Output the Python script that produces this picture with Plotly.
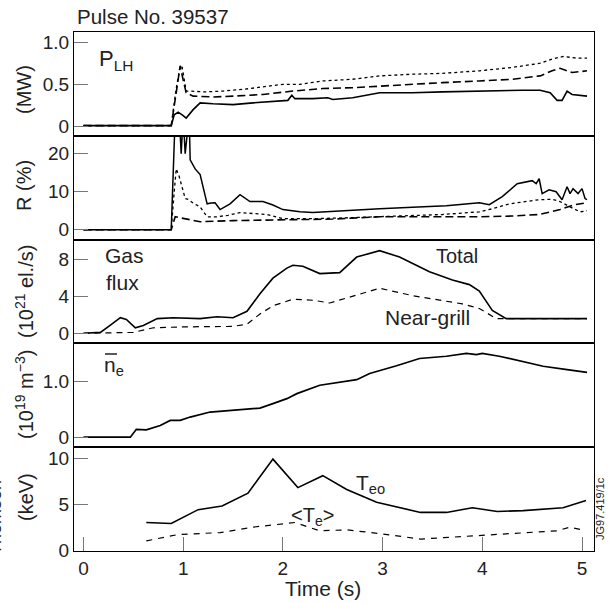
import plotly.graph_objects as go
from plotly.subplots import make_subplots

# ---------------- data ----------------
# Panel 1: P_LH (MW)
plh_solid_t = [0.0, 0.88, 0.91, 0.95, 1.0, 1.03, 1.1, 1.17, 1.3, 1.5, 1.7, 1.9, 2.05, 2.09, 2.12, 2.3, 2.45, 2.5, 2.7, 2.97, 3.3, 3.6, 3.9, 4.14, 4.4, 4.58, 4.68, 4.75, 4.8, 4.85, 4.9, 5.05]
plh_solid_v = [0.01, 0.01, 0.14, 0.17, 0.13, 0.10, 0.20, 0.28, 0.27, 0.26, 0.28, 0.30, 0.31, 0.37, 0.33, 0.33, 0.34, 0.32, 0.34, 0.40, 0.40, 0.41, 0.42, 0.43, 0.43, 0.43, 0.40, 0.31, 0.31, 0.42, 0.38, 0.36]
plh_dash_t = [0.0, 0.88, 0.93, 0.97, 1.0, 1.03, 1.1, 1.3, 1.5, 1.8, 2.1, 2.4, 2.7, 2.97, 3.3, 3.6, 3.97, 4.3, 4.58, 4.7, 4.78, 4.9, 5.05]
plh_dash_v = [0.01, 0.01, 0.40, 0.72, 0.55, 0.40, 0.36, 0.35, 0.36, 0.38, 0.42, 0.45, 0.46, 0.48, 0.50, 0.52, 0.54, 0.56, 0.60, 0.66, 0.69, 0.64, 0.66]
plh_dot_t = [0.0, 0.88, 0.93, 0.97, 0.99, 1.03, 1.08, 1.2, 1.4, 1.6, 1.8, 2.0, 2.17, 2.4, 2.7, 2.97, 3.3, 3.6, 3.97, 4.3, 4.58, 4.7, 4.81, 4.95, 5.05]
plh_dot_v = [0.01, 0.01, 0.45, 0.72, 0.70, 0.42, 0.42, 0.41, 0.42, 0.44, 0.47, 0.50, 0.50, 0.54, 0.56, 0.60, 0.62, 0.63, 0.66, 0.70, 0.75, 0.80, 0.83, 0.81, 0.81]

# Panel 2: R (%)
r_solid_t = [0.0, 0.88, 0.92, 0.96, 0.98, 1.0, 1.02, 1.04, 1.06, 1.07, 1.12, 1.17, 1.21, 1.24, 1.28, 1.32, 1.37, 1.42, 1.47, 1.57, 1.62, 1.67, 1.8, 1.9, 2.0, 2.17, 2.3, 2.6, 2.97, 3.3, 3.64, 3.97, 4.07, 4.2, 4.35, 4.5, 4.54, 4.57, 4.6, 4.67, 4.74, 4.8, 4.85, 4.88, 4.91, 4.96, 5.0, 5.03, 5.05]
r_solid_v = [0, 0, 30, 30, 20, 30, 20, 30, 30, 18.4, 16, 14.5, 10, 6.8, 7.0, 7.1, 5.3, 6.0, 6.8, 9.2, 8.3, 7.4, 7.4, 6.5, 5.3, 4.7, 4.5, 5.0, 5.5, 5.9, 6.3, 7.1, 6.6, 8.7, 12.1, 12.9, 12.1, 13.4, 9.5, 10.5, 10.0, 7.9, 11.3, 9.5, 10.8, 9.5, 10.8, 8.2, 7.9]
r_dot_t = [0.0, 0.88, 0.91, 0.93, 0.96, 0.99, 1.02, 1.05, 1.1, 1.17, 1.24, 1.34, 1.45, 1.57, 1.7, 1.84, 2.0, 2.3, 2.6, 2.97, 3.3, 3.6, 3.97, 4.1, 4.27, 4.57, 4.7, 4.78, 4.88, 4.98, 5.05]
r_dot_v = [0, 0, 10, 16, 14, 11.3, 8.2, 8.0, 7.0, 6.0, 3.4, 3.4, 3.8, 4.5, 4.2, 4.0, 2.9, 2.9, 3.1, 3.4, 3.6, 4.0, 4.7, 5.5, 6.8, 7.9, 8.0, 7.4, 6.0, 4.7, 5.0]
r_dash_t = [0.0, 0.88, 0.92, 1.02, 1.17, 1.5, 2.0, 2.5, 2.97, 3.5, 3.97, 4.3, 4.57, 4.78, 4.93, 5.05]
r_dash_v = [0, 0, 3.4, 2.9, 2.1, 2.4, 2.6, 2.8, 3.4, 3.3, 3.4, 3.6, 4.0, 5.3, 6.6, 7.1]

# Panel 3: Gas flux (10^21 el./s)
gas_total_t = [0.0, 0.17, 0.27, 0.37, 0.43, 0.52, 0.6, 0.74, 0.9, 1.17, 1.34, 1.5, 1.64, 1.77, 1.9, 2.04, 2.1, 2.2, 2.37, 2.57, 2.74, 2.97, 3.17, 3.47, 3.7, 3.87, 3.97, 4.1, 4.24, 4.4, 5.05]
gas_total_v = [0, 0.1, 0.9, 1.7, 1.5, 0.6, 0.85, 1.6, 1.7, 1.6, 1.8, 1.7, 2.4, 4.3, 6.0, 7.1, 7.4, 7.3, 6.5, 6.6, 8.3, 9.0, 8.3, 6.7, 5.8, 5.3, 4.6, 2.5, 1.6, 1.6, 1.6]
gas_near_t = [0.0, 0.5, 0.7, 1.0, 1.5, 1.64, 1.77, 1.9, 2.1, 2.3, 2.47, 2.7, 2.97, 3.3, 3.8, 3.97, 4.14, 4.3, 5.05]
gas_near_v = [0, 0.1, 0.6, 0.7, 0.75, 1.0, 2.1, 3.0, 3.7, 3.6, 3.3, 4.0, 4.9, 4.1, 3.2, 2.7, 1.6, 1.6, 1.6]

# Panel 4: line-average density (10^19 m^-3)
ne_t = [0.0, 0.47, 0.53, 0.63, 0.77, 0.87, 0.97, 1.07, 1.27, 1.5, 1.77, 1.9, 2.04, 2.14, 2.37, 2.74, 2.87, 3.14, 3.37, 3.64, 3.84, 3.94, 4.0, 4.17, 4.38, 4.61, 4.85, 5.05]
ne_v = [0, 0, 0.14, 0.13, 0.21, 0.30, 0.30, 0.36, 0.45, 0.48, 0.52, 0.60, 0.69, 0.78, 0.93, 1.03, 1.14, 1.28, 1.41, 1.45, 1.5, 1.48, 1.5, 1.45, 1.36, 1.27, 1.21, 1.16]

# Panel 5: temperatures (keV)
teo_t = [0.63, 0.88, 1.15, 1.39, 1.65, 1.9, 2.15, 2.4, 2.64, 2.94, 3.38, 3.64, 3.9, 4.15, 4.41, 4.81, 5.04]
teo_v = [3.0, 2.9, 4.4, 4.8, 6.2, 9.9, 6.8, 8.1, 6.6, 5.2, 4.1, 4.1, 4.6, 4.2, 4.3, 4.6, 5.4]
te_avg_t = [0.63, 0.95, 1.37, 1.7, 2.12, 2.37, 2.64, 2.97, 3.38, 3.98, 4.75, 4.88, 5.0]
te_avg_v = [1.0, 1.7, 1.9, 2.5, 3.0, 2.1, 2.2, 1.8, 1.2, 1.6, 2.1, 2.5, 2.2]

x_ticks = [0, 1, 2, 3, 4, 5]
y_ranges = [[-0.11, 1.12], [-2.6, 24.7], [-1.1, 10.2], [-0.18, 1.68], [-0.1, 11.2]]
y_tickvals = [[0, 0.5, 1.0], [0, 10, 20], [0, 4, 8], [0, 1.0], [0, 5, 10]]
y_ticktext = [["0", "0.5", "1.0"], ["0", "10", "20"], ["0", "4", "8"], ["0", "1.0"], ["0", "5", "10"]]

# ---------------- figure ----------------
FONT = "Liberation Sans, Arial, Helvetica, sans-serif"
TXT = "#222222"

fig = make_subplots(rows=5, cols=1, shared_xaxes=True, vertical_spacing=0)

def add(t, v, row, dash="solid", width=1.6):
    fig.add_trace(go.Scatter(x=t, y=v, mode="lines",
                             line=dict(color="black", width=width, dash=dash),
                             showlegend=False, hoverinfo="skip"), row=row, col=1)

add(plh_dot_t, plh_dot_v, 1, "dot", 1.3)
add(plh_dash_t, plh_dash_v, 1, "8px,4px", 1.6)
add(plh_solid_t, plh_solid_v, 1, "solid", 1.6)

add(r_dot_t, r_dot_v, 2, "dot", 1.3)
add(r_dash_t, r_dash_v, 2, "8px,4px", 1.6)
add(r_solid_t, r_solid_v, 2, "solid", 1.5)

add(gas_near_t, gas_near_v, 3, "6px,5px", 1.2)
add(gas_total_t, gas_total_v, 3, "solid", 1.6)

add(ne_t, ne_v, 4, "solid", 1.7)

add(te_avg_t, te_avg_v, 5, "6px,6px", 1.2)
add(teo_t, teo_v, 5, "solid", 1.6)

for i in range(5):
    r = i + 1
    fig.update_yaxes(row=r, col=1, range=y_ranges[i], tickvals=y_tickvals[i], ticktext=y_ticktext[i],
                     ticks="inside", ticklen=14, tickcolor="#777777", tickwidth=1.2,
                     showline=True, linecolor="black", linewidth=1.2, mirror=True,
                     showgrid=False, zeroline=False, automargin=False,
                     tickfont=dict(family=FONT, size=19, color=TXT))
    fig.update_xaxes(row=r, col=1, range=[-0.095, 5.12],
                     showline=True, linecolor="black", linewidth=1.2, mirror=True,
                     showgrid=False, zeroline=False, automargin=False,
                     ticks="" if r < 5 else "inside", ticklen=14, tickcolor="#777777", tickwidth=1.2,
                     tickvals=x_ticks, showticklabels=(r == 5),
                     tickfont=dict(family=FONT, size=19, color=TXT))

W, H = 610, 603
L, R, T, B = 74, 16, 32, 52
fig.update_layout(width=W, height=H, margin=dict(l=L, r=R, t=T, b=B, autoexpand=False),
                  paper_bgcolor="white", plot_bgcolor="white",
                  font=dict(family=FONT, color=TXT))

def px(xp, yp):
    return (xp - L) / (W - L - R), 1 - (yp - T) / (H - T - B)

def note(text, xp, yp, size=19, angle=0, xanchor="center", yanchor="middle"):
    x, y = px(xp, yp)
    fig.add_annotation(text=text, x=x, y=y, xref="paper", yref="paper", showarrow=False,
                       textangle=angle, xanchor=xanchor, yanchor=yanchor,
                       font=dict(family=FONT, size=size, color=TXT))

note("Pulse No. 39537", 75, 17, size=20.5, xanchor="left")
note("P<sub>LH</sub>", 97, 60, size=22, xanchor="left")
note("Gas", 103, 256, size=21, xanchor="left")
note("flux", 104, 282, size=21, xanchor="left")
note("Total", 457, 256, size=20)
note("Near-grill", 427, 317, size=21)
note("n<sub>e</sub>", 102, 366, size=21, xanchor="left")
note("T<sub>eo</sub>", 354, 484, size=21, xanchor="left")
note("&lt;T<sub>e</sub>&gt;", 289, 516, size=20, xanchor="left")
note("Time (s)", 323, 588, size=21)

note("(MW)", 24, 90, size=20, angle=-90)
note("R (%)", 24, 186, size=20, angle=-90)
note("(10<sup>21</sup> el./s)", 24, 292, size=20, angle=-90)
note("(10<sup>19</sup> m<sup>\u22123</sup>)", 24, 395, size=20, angle=-90)
note("(keV)", 26, 497, size=20, angle=-90)
note("Thomson", -5, 518, size=18, angle=-90)
note("JG97.419/1c", 600, 509, size=11, angle=-90)

# overbar of the n-bar label
x0, y0 = px(105, 354)
x1, _ = px(117, 354)
fig.add_shape(type="line", xref="paper", yref="paper", x0=x0, x1=x1, y0=y0, y1=y0,
              line=dict(color=TXT, width=1.5))

fig.write_html("out.html", config={"displayModeBar": False},
               post_script="document.body.style.margin='0';document.body.style.overflow='hidden';")
